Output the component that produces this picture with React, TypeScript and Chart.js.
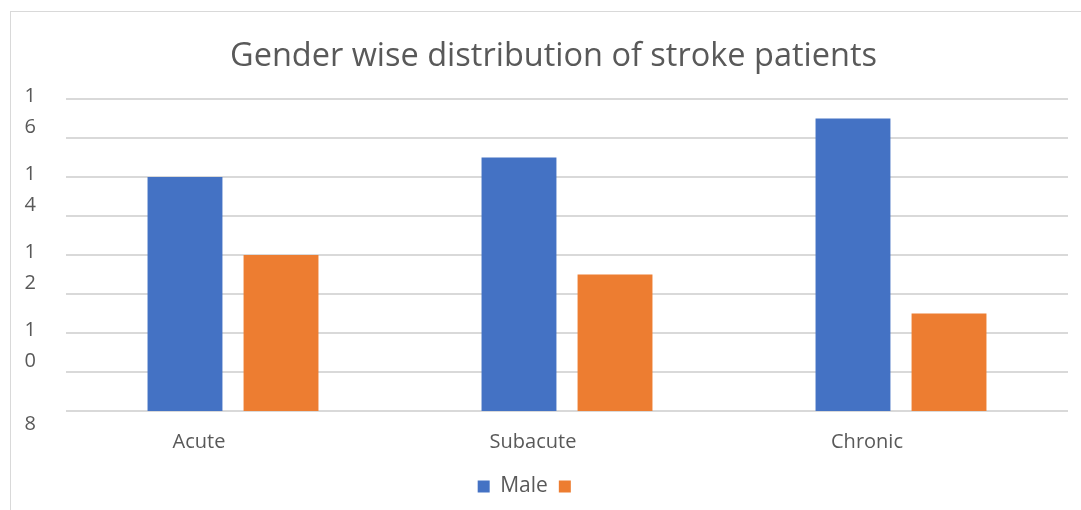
import React, { useEffect, useRef } from "react";
import { Chart, registerables } from "chart.js";

Chart.register(...registerables);

const categories = ["Acute", "Subacute", "Chronic"];
const maleValues = [14, 14.5, 15.5];
const femaleValues = [12, 11.5, 10.5];
const seriesLabels = ["Male", ""];
const yTickLabels: Record<number, string | string[]> = {
  16: ["1", "6"],
  14: ["1", "4"],
  12: ["1", "2"],
  10: ["1", "0"],
  8: "8",
};
const titleText = "Gender wise distribution of stroke patients";

const shiftBlocks = {
  id: "shiftBlocks",
  afterLayout(chart: any) {
    if (chart.titleBlock) {
      chart.titleBlock.left += 14;
      chart.titleBlock.right += 14;
    }
    if (chart.legend) {
      chart.legend.left -= 10;
      chart.legend.right -= 10;
    }
  },
};

export default function App() {
  const ref = useRef<HTMLCanvasElement | null>(null);
  useEffect(() => {
    if (!ref.current) return;
    const font = "'Open Sans', 'Liberation Sans', sans-serif";
    const chart = new Chart(ref.current, {
      type: "bar",
      data: {
        labels: categories,
        datasets: [
          {
            label: seriesLabels[0],
            data: maleValues,
            backgroundColor: "#4472C4",
            categoryPercentage: 0.575,
            barPercentage: 0.78,
          },
          {
            label: seriesLabels[1],
            data: femaleValues,
            backgroundColor: "#ED7D31",
            categoryPercentage: 0.575,
            barPercentage: 0.78,
          },
        ],
      },
      plugins: [shiftBlocks],
      options: {
        animation: false,
        responsive: false,
        maintainAspectRatio: false,
        layout: { padding: { left: 0, right: 13, top: 10, bottom: 3 } },
        plugins: {
          title: {
            display: true,
            text: titleText,
            color: "#595959",
            font: { family: font, size: 32.5, weight: "normal" },
            padding: { top: 15, bottom: 23 },
          },
          legend: {
            position: "bottom",
            labels: {
              color: "#595959",
              font: { family: font, size: 21 },
              boxWidth: 12,
              boxHeight: 12,
              padding: 11,
            },
          },
          tooltip: { enabled: false },
        },
        scales: {
          x: {
            grid: { display: false },
            border: { display: false },
            ticks: {
              color: "#595959",
              font: { family: font, size: 20 },
              padding: 11,
              labelOffset: -34,
            },
          },
          y: {
            min: 8,
            max: 16,
            border: { display: false },
            grid: { color: "#D9D9D9", lineWidth: 2, drawTicks: false },
            afterFit: (s: any) => {
              s.width = 55;
            },
            ticks: {
              stepSize: 1,
              color: "#595959",
              font: { family: font, size: 20, lineHeight: 1.55 },
              padding: 30,
              labelOffset: 13,
              autoSkip: false,
              callback: (v: any) => {
                const l = yTickLabels[Number(v)];
                return l === undefined ? "" : l;
              },
            },
          },
        },
      },
    });
    return () => chart.destroy();
  }, []);
  return (
    <div
      style={{
        position: "fixed",
        left: 10,
        top: 11,
        width: 1071,
        height: 499,
        borderLeft: "1px solid #D9D9D9",
        borderTop: "1px solid #D9D9D9",
        background: "#fff",
      }}
    >
      <canvas ref={ref} width={1070} height={498} />
    </div>
  );
}
